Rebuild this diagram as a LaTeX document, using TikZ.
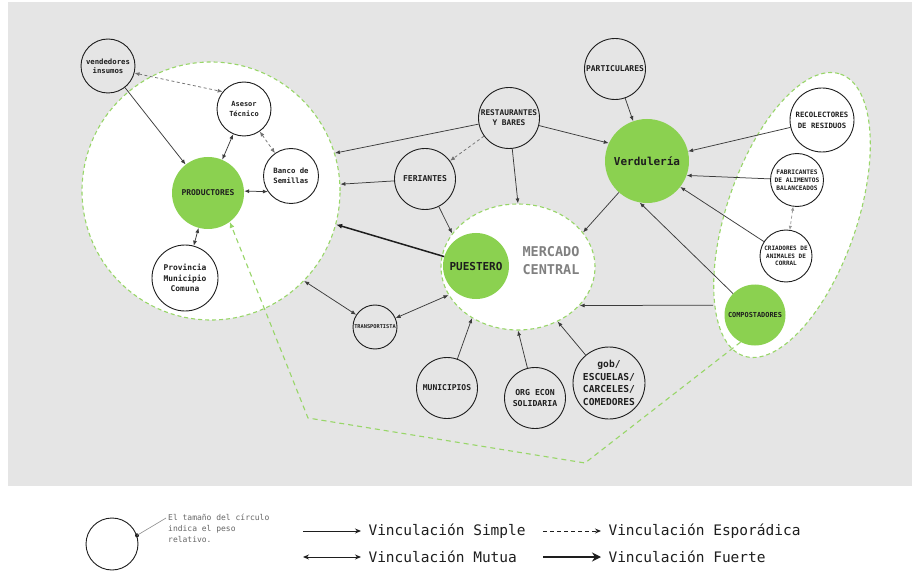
\documentclass[tikz,border=0pt]{standalone}
\usepackage{fontspec}
\setmonofont{DejaVu Sans Mono}
\usetikzlibrary{arrows.meta,shapes.geometric}
\definecolor{bggray}{RGB}{229,229,229}
\definecolor{vgreen}{RGB}{139,209,80}
\definecolor{dgreen}{RGB}{152,214,104}
\definecolor{ink}{RGB}{30,30,30}
\definecolor{lnk}{RGB}{60,60,60}
\newcommand{\fsz}[2]{\fontsize{#1}{#2}\selectfont}
\begin{document}
\begin{tikzpicture}[x=1pt,y=-1pt,
  region/.style={circle,fill=white,draw=dgreen,line width=1.1pt,dash pattern=on 4pt off 3pt,inner sep=0},
  ent/.style={circle,draw=ink,line width=0.9pt,inner sep=0,align=center,text=ink},
  hub/.style={circle,fill=vgreen,draw=none,inner sep=0,align=center,text=ink},
  sz/.style 2 args={font=\ttfamily\bfseries\fsz{#1}{#2}},
  tip/.style={-{Latex[length=5pt,width=4pt]}},
  conn/.style={draw=lnk,line width=0.75pt,tip},
  mutual/.style={draw=lnk,line width=0.75pt,{Latex[length=5pt,width=4pt]}-{Latex[length=5pt,width=4pt]}},
  spor/.style={draw=black!55,line width=0.75pt,dash pattern=on 3pt off 2.5pt},
  strong/.style={draw=ink,line width=1.5pt,-{Latex[length=6pt,width=5pt]}},
  legtxt/.style={anchor=west,text=ink,font=\ttfamily\fsz{14.5}{16}}
]
% background
\fill[white] (0,0) rectangle (916,572);
\fill[bggray] (8,2) rectangle (912,486);

% regions
\node[region,minimum size=258] (bigP) at (211,191) {};
\node[region,ellipse,minimum width=154,minimum height=126] (merc) at (518,267) {};
\draw[fill=white,draw=dgreen,line width=1.1pt,dash pattern=on 4pt off 3pt,rotate around={71:(792,215)}] (792,215) ellipse [x radius=149, y radius=65];
\coordinate (ellW) at (713,305.2);

% nodes
\node[ent,minimum size=54,sz={7.3}{9}] (vend) at (108,66) {vendedores\\insumos};
\node[ent,minimum size=54,sz={7}{10}] (ases) at (244,109) {Asesor\\Técnico};
\node[ent,minimum size=55,sz={7.3}{9.5}] (banco) at (291,176) {Banco de\\Semillas};
\node[hub,minimum size=72,sz={8}{9}] (prod) at (208,193) {PRODUCTORES};
\node[ent,minimum size=66,sz={7.9}{10.5}] (prov) at (185,278) {Provincia\\Municipio\\Comuna};
\node[ent,minimum size=61,sz={7.8}{10}] (rest) at (509,118) {RESTAURANTES\\Y BARES};
\node[ent,minimum size=61,sz={8.1}{9}] (fer) at (425,179) {FERIANTES};
\node[hub,minimum size=66,sz={11}{12}] (puest) at (476,266) {PUESTERO};
\node[text=black!50,align=center,sz={13.5}{18}] (mtxt) at (551,261) {MERCADO\\CENTRAL};
\node[ent,minimum size=61,sz={8}{9}] (part) at (615,69) {PARTICULARES};
\node[hub,minimum size=84,sz={11}{12}] (verd) at (647,161) {Verdulería};
\node[ent,minimum size=64,sz={7.3}{11}] (recol) at (822,120) {RECOLECTORES\\DE RESIDUOS};
\node[ent,minimum size=53,sz={6.2}{8}] (fab) at (797,180) {FABRICANTES\\DE ALIMENTOS\\BALANCEADOS};
\node[ent,minimum size=52,sz={6}{7.5}] (criad) at (786,256) {CRIADORES DE\\ANIMALES DE\\CORRAL};
\node[hub,minimum size=61,sz={6.9}{8}] (comp) at (755,315) {COMPOSTADORES};
\node[ent,minimum size=44,sz={5.3}{6}] (transp) at (375,327) {TRANSPORTISTA};
\node[ent,minimum size=61,sz={8}{9}] (muni) at (447,388) {MUNICIPIOS};
\node[ent,minimum size=61,sz={8.2}{11}] (org) at (535,398) {ORG ECON\\SOLIDARIA};
\node[ent,minimum size=72,sz={9.6}{12.5}] (gob) at (609,383) {gob/\\ESCUELAS/\\CARCELES/\\COMEDORES};

% green dashed link compostadores -> productores
\coordinate (p1) at (585,463);
\coordinate (p2) at (308,418);
\draw[draw=dgreen,line width=1.1pt,dash pattern=on 5pt off 4pt,-{Latex[length=6pt,width=5pt]}]
  (comp.-118) -- (p1) -- (p2) -- (prod.-53);

% connectors inside productores
\draw[conn] (vend) -- (prod);
\draw[spor,{Latex[length=5pt,width=4pt]}-{Latex[length=5pt,width=4pt]}] (vend.-15) -- (ases.141);
\draw[mutual] (ases) -- (prod);
\draw[spor,{Latex[length=5pt,width=4pt]}-{Latex[length=5pt,width=4pt]}] (ases) -- (banco);
\draw[mutual] (prod.3) -- (banco.214);
\draw[mutual] (prod) -- (prov);

% restaurants / feriantes / puestero
\draw[conn] (rest) -- (bigP.17);
\draw[spor,tip] (rest) -- (fer);
\draw[conn] (rest) -- (merc.north);
\draw[conn] (rest) -- (verd.155);
\draw[conn] (fer) -- (bigP.3);
\draw[conn] (fer) -- (merc.153);
\draw[strong] (puest) -- (bigP.-15);

% verduleria
\draw[conn] (verd) -- (merc.28);
\draw[conn] (part) -- (verd);
\draw[conn] (recol) -- (verd);
\draw[conn] (fab) -- (verd.-20);
\draw[conn] (criad) -- (verd.-38);
\draw[conn] (comp) -- (verd.-100);
\draw[spor,draw=black!40,{Latex[length=4pt,width=3.5pt]}-{Latex[length=4pt,width=3.5pt]}] (fab) -- (criad);
\draw[conn] (ellW) -- (merc.-32);

% bottom
\draw[mutual] (bigP.-44) -- (transp);
\draw[mutual] (transp) -- (merc.-158);
\draw[conn] (muni) -- (merc.-132);
\draw[conn] (org) -- (merc.south);
\draw[conn] (gob) -- (merc.-54);

% legend
\node[circle,draw=ink,line width=0.9pt,minimum size=52,inner sep=0] (lc) at (112,544) {};
\fill[ink] (lc.19) circle (2);
\node[anchor=north west,align=left,text=black!60,inner sep=0,font=\ttfamily\fsz{8}{11}] (ltxt) at (168,514) {El tamaño del círculo\\indica el peso\\relativo.};
\coordinate (lend) at (166,518);
\draw[black!45,line width=0.6pt] (lc.19) -- (lend);

\coordinate (a1) at (303,531); \coordinate (a2) at (361,531);
\coordinate (b1) at (303,557); \coordinate (b2) at (361,557);
\coordinate (c1) at (543,531); \coordinate (c2) at (601,531);
\coordinate (d1) at (543,557); \coordinate (d2) at (601,557);
\draw[draw=ink,line width=0.9pt,-{Stealth[length=6pt,width=5pt]}] (a1) -- (a2);
\draw[draw=ink,line width=0.9pt,{Stealth[length=6pt,width=5pt]}-{Stealth[length=6pt,width=5pt]}] (b1) -- (b2);
\draw[draw=ink,line width=0.9pt,dash pattern=on 4pt off 3pt,-{Stealth[length=6pt,width=5pt]}] (c1) -- (c2);
\draw[draw=ink,line width=2.4pt,-{Stealth[length=9pt,width=9pt]}] (d1) -- (d2);
\node[legtxt] (t1) at (365,531) {Vinculación Simple};
\node[legtxt] (t2) at (365,557) {Vinculación Mutua};
\node[legtxt] (t3) at (605,531) {Vinculación Esporádica};
\node[legtxt] (t4) at (605,557) {Vinculación Fuerte};
\end{tikzpicture}
\end{document}
